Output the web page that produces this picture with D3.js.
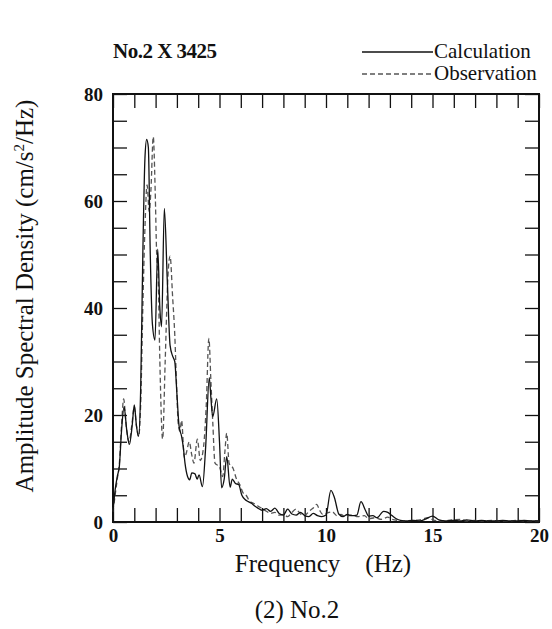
<!DOCTYPE html>
<html>
<head>
<meta charset="utf-8">
<script src="https://d3js.org/d3.v7.min.js"></script>
<style>
  body { margin: 0; background: #fff; }
  svg { display: block; }
  text { font-family: "Liberation Serif", "Times New Roman", serif; fill: #111; }
  .tick line { stroke: #111; stroke-width: 1.3; }
  .tick text { font-weight: bold; font-size: 19px; }
  .domain { display: none; }
</style>
</head>
<body>
<svg id="chart" width="552" height="629"></svg>
<script>
const width = 552;
const height = 629;

// frequency (Hz), amplitude (cm/s2/Hz)
const calcData = [
  [0, 2], [0.1, 6], [0.2, 8.5], [0.3, 10.5], [0.4, 17], [0.52, 21.5], [0.65, 17], [0.77, 14.5],
  [0.9, 18], [1.0, 21.9], [1.1, 18], [1.2, 16], [1.3, 25], [1.4, 50], [1.5, 68], [1.58, 71.5],
  [1.66, 70], [1.75, 50], [1.85, 37], [1.97, 34], [2.1, 51], [2.2, 40], [2.28, 36.5], [2.41, 58.6],
  [2.55, 45], [2.68, 33], [2.8, 31], [2.9, 30], [3.0, 24], [3.1, 18], [3.22, 16], [3.3, 14],
  [3.38, 11], [3.5, 8.5], [3.6, 7.9], [3.7, 9.2], [3.85, 9], [3.95, 8], [4.04, 8.8], [4.2, 6.6],
  [4.35, 14], [4.52, 27], [4.6, 23], [4.68, 19.7], [4.87, 23], [5.0, 15], [5.1, 6.4], [5.22, 8],
  [5.34, 12.2], [5.5, 6.5], [5.6, 8], [5.75, 7.2], [5.9, 7], [6.05, 5], [6.2, 4.2], [6.35, 3.8],
  [6.5, 3.5], [6.65, 3], [6.8, 2.6], [7.0, 2.2], [7.2, 2.5], [7.4, 2.0], [7.6, 2.6], [7.8, 1.6],
  [8.0, 1.3], [8.2, 2.4], [8.4, 1.5], [8.6, 1.3], [8.8, 1.8], [9.0, 1.2], [9.2, 1.0], [9.4, 1.6],
  [9.6, 1.2], [9.8, 1.0], [10.0, 1.3], [10.23, 5.9], [10.4, 4.5], [10.6, 1.5], [10.8, 1.0], [11.0, 1.4],
  [11.2, 1.2], [11.45, 1.3], [11.64, 3.8], [11.85, 2.2], [12.0, 1.1], [12.2, 1.2], [12.4, 0.8], [12.7, 2.0],
  [12.9, 1.8], [13.1, 1.2], [13.3, 0.6], [13.5, 0.3], [13.8, 0.2], [14.1, 0.3], [14.4, 0.2], [14.7, 0.6],
  [15.0, 1.1], [15.3, 0.4], [15.6, 0.2], [16.0, 0.3], [16.3, 0.2], [16.6, 0.4], [17.0, 0.2], [17.3, 0.3],
  [17.6, 0.2], [18.0, 0.2], [18.3, 0.3], [18.6, 0.2], [19.0, 0.2], [19.3, 0.3], [19.6, 0.2], [20.0, 0.2]
];

const obsData = [
  [0, 2], [0.1, 5], [0.2, 8], [0.3, 11], [0.4, 18], [0.5, 23], [0.62, 18], [0.75, 15],
  [0.88, 18], [1.0, 21.5], [1.1, 18], [1.2, 16], [1.3, 22], [1.4, 40], [1.5, 55], [1.6, 63],
  [1.7, 58], [1.78, 62], [1.89, 72], [1.98, 62], [2.05, 50], [2.12, 46], [2.2, 30], [2.33, 15.5],
  [2.45, 30], [2.58, 46], [2.68, 49.7], [2.8, 42], [2.9, 35], [2.99, 25], [3.06, 18.5], [3.14, 17],
  [3.22, 19], [3.35, 12], [3.45, 13], [3.58, 15], [3.7, 12.5], [3.8, 11], [3.96, 15.5], [4.1, 11.5],
  [4.25, 14], [4.38, 22], [4.5, 34.3], [4.6, 26], [4.68, 19], [4.79, 11], [5.0, 10.3], [5.15, 8.5],
  [5.25, 13], [5.34, 16.6], [5.45, 11], [5.64, 10], [5.8, 8], [5.95, 7], [6.1, 5.5], [6.25, 5],
  [6.4, 4], [6.6, 3.5], [6.8, 3], [7.0, 2.5], [7.2, 2], [7.4, 1.6], [7.6, 1.8], [7.8, 1.3],
  [8.0, 1.4], [8.2, 1.0], [8.4, 1.8], [8.6, 2.4], [8.8, 1.5], [9.0, 1.2], [9.2, 2.0], [9.4, 2.6],
  [9.56, 3.3], [9.7, 2.2], [9.85, 1.4], [10.0, 1.6], [10.3, 1.9], [10.5, 1.2], [10.7, 1.4], [10.9, 1.0],
  [11.2, 1.3], [11.5, 1.0], [11.8, 1.2], [12.0, 0.6], [12.3, 0.8], [12.6, 0.5], [12.9, 0.9], [13.1, 0.5],
  [13.4, 0.3], [13.7, 0.2], [14.0, 0.3], [14.4, 0.4], [14.8, 0.8], [15.1, 0.3], [15.5, 0.2], [15.9, 0.4],
  [16.3, 0.5], [16.6, 0.2], [17.0, 0.3], [17.4, 0.2], [17.8, 0.3], [18.2, 0.2], [18.6, 0.2], [19.0, 0.3],
  [19.4, 0.2], [20.0, 0.2]
];

const xTicks = d3.range(0, 21, 1);
const xLabels = [0, 5, 10, 15, 20];
const yTicks = d3.range(0, 81, 5);
const yLabels = [0, 20, 40, 60, 80];

const svg = d3.select('#chart');

var x = d3.scaleLinear().domain([0, 20]).range([113, 539]);
var y = d3.scaleLinear().domain([0, 80]).range([522, 94]);

function fmtX(d) { return xLabels.indexOf(d) >= 0 ? d : ''; }
function fmtY(d) { return yLabels.indexOf(d) >= 0 ? d : ''; }

// ticks point inward on all four sides
svg.append('g')
    .attr('transform', 'translate(0,' + y(0) + ')')
    .call(d3.axisBottom(x).tickValues(xTicks).tickSize(-14).tickPadding(7).tickFormat(fmtX));

svg.append('g')
    .attr('transform', 'translate(0,' + y(80) + ')')
    .call(d3.axisTop(x).tickValues(xTicks).tickSize(-14).tickFormat(''));

svg.append('g')
    .attr('transform', 'translate(' + x(0) + ',0)')
    .call(d3.axisLeft(y).tickValues(yTicks).tickSize(-14).tickPadding(10).tickFormat(fmtY));

svg.append('g')
    .attr('transform', 'translate(' + x(20) + ',0)')
    .call(d3.axisRight(y).tickValues(yTicks).tickSize(-14).tickFormat(''));

// frame
svg.append('rect')
    .attr('x', x(0)).attr('y', y(80))
    .attr('width', x(20) - x(0)).attr('height', y(0) - y(80))
    .attr('fill', 'none').attr('stroke', '#111').attr('stroke-width', 2);

var line = d3.line()
    .x(function (d) { return x(d[0]); })
    .y(function (d) { return y(d[1]); })
    .curve(d3.curveMonotoneX);

svg.append('path')
    .datum(obsData)
    .attr('d', line)
    .attr('fill', 'none')
    .attr('stroke', '#555')
    .attr('stroke-width', 1.3)
    .attr('stroke-dasharray', '5,3');

svg.append('path')
    .datum(calcData)
    .attr('d', line)
    .attr('fill', 'none')
    .attr('stroke', '#111')
    .attr('stroke-width', 1.3);

// title + legend
svg.append('text').attr('x', 113).attr('y', 58)
    .attr('font-size', 21).attr('font-weight', 'bold').style('letter-spacing', '-0.5px')
    .text('No.2 X 3425');

svg.append('line').attr('x1', 362).attr('x2', 433).attr('y1', 52).attr('y2', 52)
    .attr('stroke', '#111').attr('stroke-width', 1.3);
svg.append('text').attr('x', 434).attr('y', 58).attr('font-size', 21).text('Calculation');

svg.append('line').attr('x1', 362).attr('x2', 433).attr('y1', 74).attr('y2', 74)
    .attr('stroke', '#555').attr('stroke-width', 1.3).attr('stroke-dasharray', '5,3');
svg.append('text').attr('x', 434).attr('y', 80).attr('font-size', 21).text('Observation');

// axis titles
svg.append('text')
    .attr('x', 323).attr('y', 572)
    .attr('text-anchor', 'middle').attr('font-size', 25)
    .style('white-space', 'pre')
    .text('Frequency    (Hz)');

var yl = svg.append('text')
    .attr('transform', 'translate(33,296) rotate(-90)')
    .attr('text-anchor', 'middle').attr('font-size', 25);
yl.append('tspan').text('Amplitude Spectral Density (cm/s');
yl.append('tspan').attr('dy', -9).attr('font-size', 15).text('2');
yl.append('tspan').attr('dy', 9).text('/Hz)');

svg.append('text')
    .attr('x', 297).attr('y', 618)
    .attr('text-anchor', 'middle').attr('font-size', 25)
    .text('(2) No.2');
</script>
</body>
</html>
